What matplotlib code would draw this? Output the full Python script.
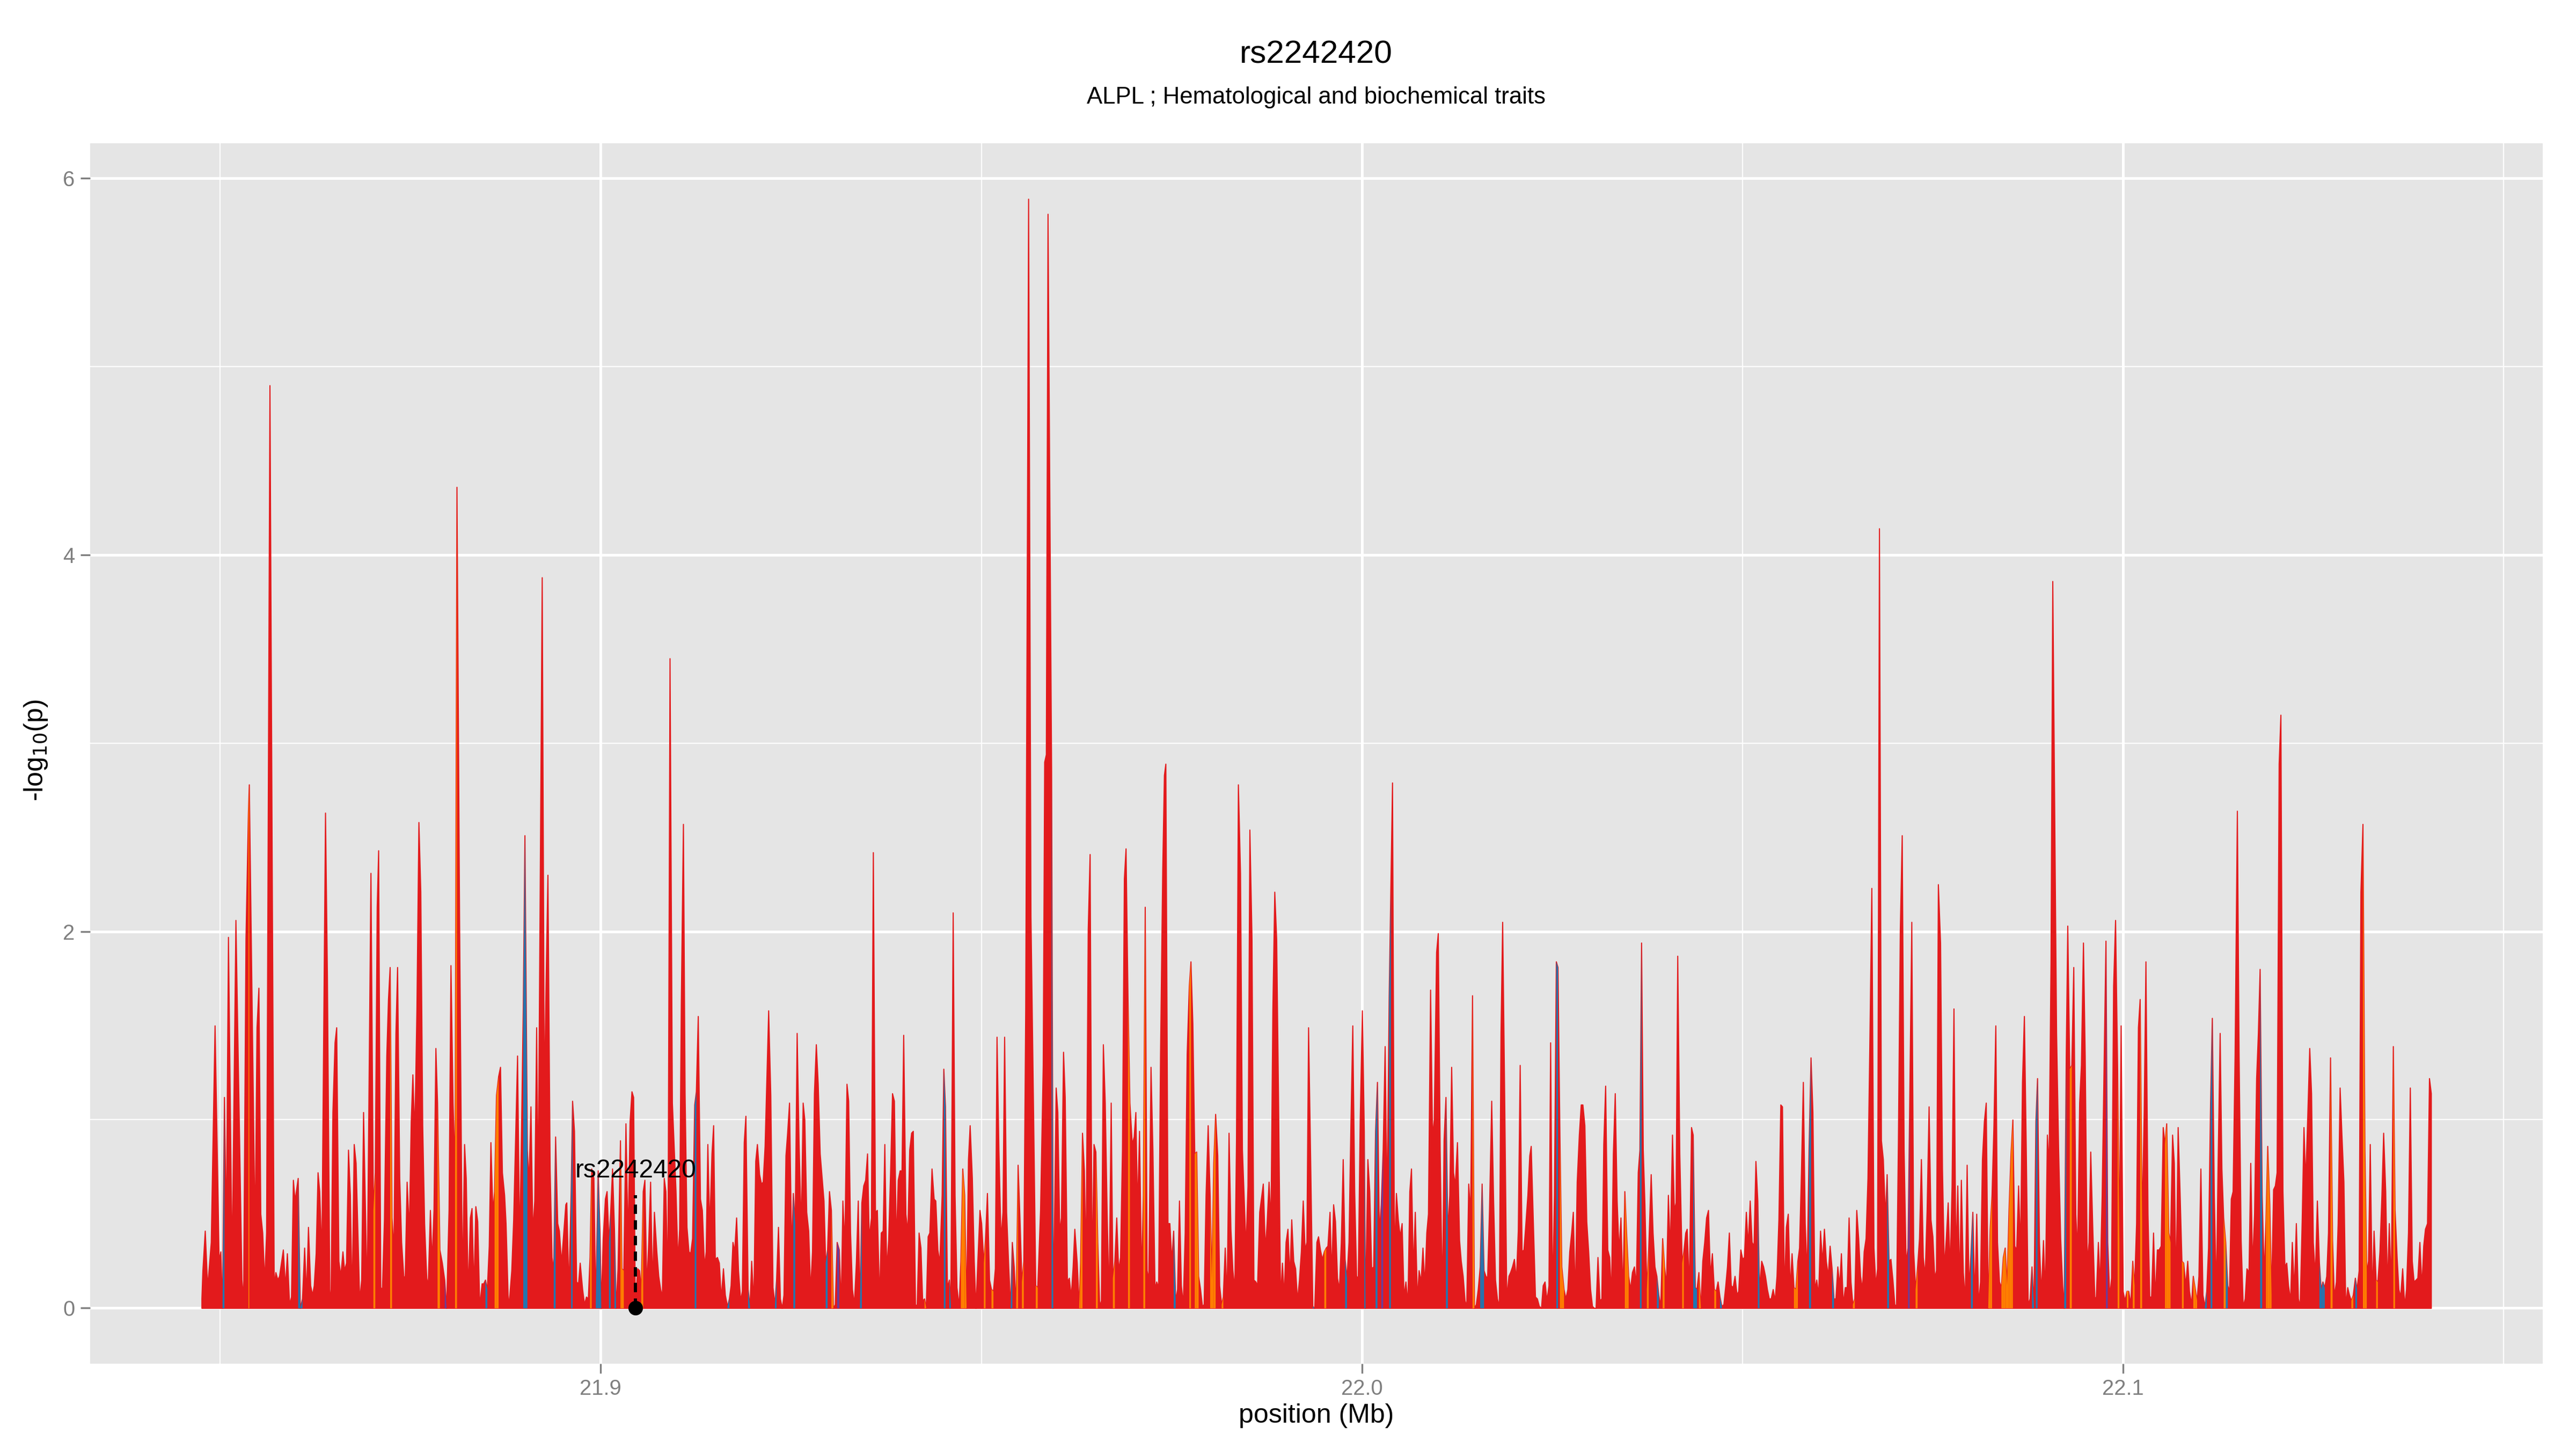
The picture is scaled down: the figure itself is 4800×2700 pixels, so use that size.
import numpy as np
import matplotlib.pyplot as plt
from matplotlib.ticker import FixedLocator

# regional association plot: -log10(p) per SNP, fill coloured by LD class

position = [
    21.84757, 21.84770, 21.84801, 21.84833, 21.84880, 21.84930, 21.84984, 21.85006,
    21.85028, 21.85053, 21.85078, 21.85106, 21.85154, 21.85204, 21.85283, 21.85305,
    21.85336, 21.85368, 21.85380, 21.85408, 21.85456, 21.85481, 21.85506, 21.85531,
    21.85556, 21.85582, 21.85607, 21.85651, 21.85707, 21.85729, 21.85755, 21.85777,
    21.85827, 21.85855, 21.85880, 21.85909, 21.85934, 21.85959, 21.85981, 21.86022,
    21.86050, 21.86079, 21.86107, 21.86132, 21.86157, 21.86186, 21.86211, 21.86233,
    21.86258, 21.86283, 21.86305, 21.86333, 21.86381, 21.86406, 21.86437, 21.86453,
    21.86478, 21.86506, 21.86528, 21.86557, 21.86582, 21.86610, 21.86632, 21.86657,
    21.86683, 21.86708, 21.86730, 21.86758, 21.86783, 21.86830, 21.86856, 21.86881,
    21.86928, 21.86978, 21.87010, 21.87035, 21.87060, 21.87079, 21.87107, 21.87129,
    21.87155, 21.87186, 21.87208, 21.87230, 21.87255, 21.87280, 21.87306, 21.87328,
    21.87356, 21.87381, 21.87409, 21.87428, 21.87453, 21.87482, 21.87507, 21.87529,
    21.87554, 21.87582, 21.87608, 21.87633, 21.87658, 21.87683, 21.87711, 21.87730,
    21.87759, 21.87781, 21.87806, 21.87831, 21.87853, 21.87884, 21.87916, 21.87947,
    21.87972, 21.88004, 21.88029, 21.88057, 21.88083, 21.88108, 21.88142, 21.88180,
    21.88208, 21.88230, 21.88256, 21.88284, 21.88306, 21.88331, 21.88356, 21.88381,
    21.88407, 21.88438, 21.88460, 21.88482, 21.88507, 21.88532, 21.88554, 21.88580,
    21.88602, 21.88627, 21.88655, 21.88680, 21.88705, 21.88734, 21.88753, 21.88784,
    21.88803, 21.88828, 21.88853, 21.88904, 21.88932, 21.88957, 21.88979, 21.89001,
    21.89033, 21.89055, 21.89080, 21.89105, 21.89130, 21.89155, 21.89174, 21.89199,
    21.89228, 21.89256, 21.89278, 21.89303, 21.89332, 21.89357, 21.89379, 21.89404,
    21.89432, 21.89454, 21.89482,
    21.89538, 21.89551, 21.89579, 21.89608, 21.89627, 21.89652, 21.89680, 21.89705,
    21.89727, 21.89759, 21.89784, 21.89809, 21.89834, 21.89856, 21.89878, 21.89907,
    21.89932, 21.89963, 21.89988, 21.90004, 21.90029, 21.90058, 21.90080, 21.90105,
    21.90127, 21.90152, 21.90177, 21.90199, 21.90224, 21.90256, 21.90275, 21.90300,
    21.90328, 21.90356, 21.90382, 21.90407, 21.90429, 21.90451, 21.90482, 21.90507,
    21.90529, 21.90555, 21.90577, 21.90602, 21.90627, 21.90652, 21.90677, 21.90702,
    21.90734, 21.90759, 21.90784, 21.90806, 21.90831, 21.90853, 21.90879, 21.90907,
    21.90938, 21.90986, 21.91011, 21.91033, 21.91055, 21.91083, 21.91105, 21.91130,
    21.91156, 21.91178, 21.91203, 21.91231, 21.91253, 21.91278, 21.91307, 21.91332,
    21.91360, 21.91382, 21.91404, 21.91429, 21.91458, 21.91480, 21.91502, 21.91530,
    21.91555, 21.91580, 21.91609, 21.91634, 21.91662, 21.91687, 21.91709, 21.91734,
    21.91756, 21.91782, 21.91807, 21.91835, 21.91857, 21.91882, 21.91904, 21.91933,
    21.91958, 21.91980, 21.92008, 21.92033, 21.92055, 21.92084, 21.92109, 21.92131,
    21.92156, 21.92203, 21.92231, 21.92260, 21.92285, 21.92307, 21.92332, 21.92357,
    21.92382, 21.92404, 21.92430, 21.92452, 21.92477, 21.92505, 21.92527, 21.92552,
    21.92577, 21.92603, 21.92631, 21.92656, 21.92678, 21.92703, 21.92729, 21.92754,
    21.92779, 21.92804, 21.92829, 21.92854, 21.92880, 21.92930, 21.92952, 21.92977,
    21.93002, 21.93027, 21.93053, 21.93078, 21.93103, 21.93131, 21.93156, 21.93178,
    21.93204, 21.93232, 21.93254, 21.93279, 21.93304, 21.93329, 21.93355, 21.93380,
    21.93402, 21.93427, 21.93452, 21.93477, 21.93502, 21.93524, 21.93553, 21.93578,
    21.93606, 21.93631, 21.93660, 21.93682, 21.93707, 21.93729, 21.93754, 21.93779,
    21.93804, 21.93830, 21.93855, 21.93880, 21.93905, 21.93930, 21.93955, 21.93977,
    21.94006, 21.94031, 21.94056, 21.94081, 21.94103, 21.94132, 21.94154, 21.94179,
    21.94204, 21.94226, 21.94251, 21.94273, 21.94298, 21.94320, 21.94349, 21.94377,
    21.94399,
    21.94426, 21.94451, 21.94482, 21.94504, 21.94526, 21.94551, 21.94577, 21.94596,
    21.94627, 21.94652, 21.94677, 21.94706, 21.94728, 21.94753, 21.94778, 21.94803,
    21.94828, 21.94850, 21.94879, 21.94904, 21.94926, 21.94951, 21.94979, 21.95001,
    21.95030, 21.95052, 21.95077, 21.95105, 21.95130, 21.95156, 21.95181, 21.95203,
    21.95228, 21.95256, 21.95281, 21.95303, 21.95329, 21.95357, 21.95382, 21.95404,
    21.95429, 21.95454, 21.95480, 21.95505, 21.95530, 21.95555, 21.95580, 21.95618,
    21.95649, 21.95684, 21.95712, 21.95738, 21.95775, 21.95810, 21.95829, 21.95851,
    21.95873, 21.95920, 21.95942, 21.95958, 21.95980, 21.96002, 21.96027, 21.96049,
    21.96077, 21.96099, 21.96128, 21.96153, 21.96178, 21.96203, 21.96225, 21.96257,
    21.96282, 21.96301, 21.96326, 21.96351, 21.96373, 21.96401, 21.96426, 21.96452,
    21.96477, 21.96502, 21.96527, 21.96552, 21.96574, 21.96600, 21.96625, 21.96650,
    21.96675, 21.96703, 21.96725, 21.96751, 21.96776, 21.96801, 21.96826, 21.96851,
    21.96876, 21.96898, 21.96924, 21.96949, 21.96980, 21.97005, 21.97027, 21.97049,
    21.97075, 21.97103, 21.97125, 21.97150, 21.97175, 21.97197, 21.97226, 21.97251,
    21.97279, 21.97301, 21.97326, 21.97351, 21.97380, 21.97402, 21.97421, 21.97449,
    21.97474, 21.97499, 21.97524, 21.97550, 21.97575, 21.97600, 21.97625, 21.97650,
    21.97675, 21.97701, 21.97729, 21.97751, 21.97776, 21.97801, 21.97826, 21.97852,
    21.97877, 21.97902, 21.97924, 21.97949, 21.97977, 21.98003, 21.98025, 21.98050,
    21.98075, 21.98103, 21.98128, 21.98154, 21.98176, 21.98201, 21.98226, 21.98251,
    21.98276, 21.98302, 21.98327, 21.98349, 21.98374, 21.98402, 21.98427, 21.98449,
    21.98474, 21.98500, 21.98525, 21.98553, 21.98578, 21.98604, 21.98626, 21.98654,
    21.98676, 21.98701, 21.98729, 21.98751, 21.98777, 21.98802, 21.98827, 21.98852,
    21.98877, 21.98902, 21.98928, 21.98953, 21.98975, 21.99000, 21.99025, 21.99050,
    21.99075, 21.99101, 21.99126, 21.99151, 21.99176, 21.99201, 21.99226, 21.99251,
    21.99274, 21.99296,
    21.99326, 21.99352, 21.99377, 21.99405, 21.99427, 21.99452, 21.99477, 21.99503,
    21.99528, 21.99550, 21.99578, 21.99600, 21.99625, 21.99650, 21.99676, 21.99701,
    21.99726, 21.99751, 21.99776, 21.99801, 21.99827, 21.99852, 21.99877, 21.99902,
    21.99927, 21.99949, 21.99974, 22.00003, 22.00028, 22.00044, 22.00075, 22.00100,
    22.00125, 22.00151, 22.00176, 22.00201, 22.00226, 22.00251, 22.00276, 22.00302,
    22.00327, 22.00355, 22.00377, 22.00399, 22.00424, 22.00450, 22.00475, 22.00500,
    22.00525, 22.00550, 22.00575, 22.00601, 22.00626, 22.00648, 22.00673, 22.00698,
    22.00726, 22.00748, 22.00774, 22.00799, 22.00824, 22.00849, 22.00871, 22.00899,
    22.00925, 22.00947, 22.00978, 22.01000, 22.01025, 22.01054, 22.01076, 22.01101,
    22.01126, 22.01151, 22.01176, 22.01201, 22.01223, 22.01252, 22.01280, 22.01302,
    22.01327, 22.01352, 22.01374, 22.01400, 22.01425, 22.01450, 22.01475, 22.01500,
    22.01525, 22.01551, 22.01576, 22.01601, 22.01626, 22.01648, 22.01673, 22.01702,
    22.01727, 22.01752, 22.01777, 22.01802, 22.01824, 22.01846, 22.01872, 22.01900,
    22.01928, 22.01950, 22.01975, 22.02000, 22.02026, 22.02051, 22.02076, 22.02101,
    22.02126, 22.02151, 22.02177, 22.02202, 22.02221, 22.02246, 22.02277, 22.02302,
    22.02328, 22.02356, 22.02378, 22.02403, 22.02428, 22.02454, 22.02476, 22.02501,
    22.02526, 22.02551, 22.02573, 22.02598, 22.02623, 22.02652, 22.02677, 22.02702,
    22.02727, 22.02752, 22.02774, 22.02800, 22.02825, 22.02853, 22.02878, 22.02900,
    22.02926, 22.02951, 22.02976, 22.03001, 22.03026, 22.03051, 22.03073, 22.03098,
    22.03124, 22.03149, 22.03174, 22.03199, 22.03227, 22.03252, 22.03275, 22.03300,
    22.03325, 22.03350, 22.03375, 22.03400, 22.03426, 22.03451, 22.03476, 22.03501,
    22.03526, 22.03551, 22.03577, 22.03602, 22.03627, 22.03649, 22.03671, 22.03693,
    22.03715, 22.03740, 22.03765, 22.03797, 22.03822, 22.03847, 22.03872, 22.03897,
    22.03923, 22.03948, 22.03973, 22.03998, 22.04023, 22.04048, 22.04077, 22.04102,
    22.04124, 22.04146,
    22.04173, 22.04204, 22.04226, 22.04251, 22.04270, 22.04298, 22.04327, 22.04349,
    22.04377, 22.04399, 22.04424, 22.04450, 22.04475, 22.04500, 22.04525, 22.04550,
    22.04575, 22.04601, 22.04626, 22.04651, 22.04676, 22.04701, 22.04726, 22.04752,
    22.04777, 22.04799, 22.04824, 22.04849, 22.04874, 22.04899, 22.04925, 22.04947,
    22.04975, 22.05000, 22.05022, 22.05047, 22.05072, 22.05098, 22.05123, 22.05148,
    22.05173, 22.05198, 22.05220, 22.05249, 22.05274, 22.05299, 22.05324, 22.05349,
    22.05374, 22.05400, 22.05425, 22.05450, 22.05475, 22.05500, 22.05522, 22.05547,
    22.05573, 22.05598, 22.05623, 22.05648, 22.05673, 22.05698, 22.05724, 22.05746,
    22.05771, 22.05796, 22.05821, 22.05846, 22.05871, 22.05897, 22.05922, 22.05947,
    22.05972, 22.05997, 22.06022, 22.06048, 22.06073, 22.06098, 22.06123, 22.06148,
    22.06174, 22.06199, 22.06224, 22.06249, 22.06274, 22.06296, 22.06321, 22.06347,
    22.06372, 22.06397, 22.06422, 22.06447, 22.06472, 22.06498, 22.06523, 22.06548,
    22.06573, 22.06595, 22.06620, 22.06645, 22.06671, 22.06696, 22.06724, 22.06749,
    22.06771, 22.06796, 22.06822, 22.06847, 22.06875, 22.06897, 22.06922, 22.06947,
    22.06973, 22.06998, 22.07020, 22.07045, 22.07070, 22.07095, 22.07120, 22.07146,
    22.07171, 22.07193, 22.07221, 22.07246, 22.07271, 22.07297, 22.07322, 22.07347,
    22.07372, 22.07397, 22.07422, 22.07448, 22.07473, 22.07498, 22.07523, 22.07545,
    22.07570, 22.07599, 22.07624, 22.07649, 22.07674, 22.07699, 22.07724, 22.07750,
    22.07775, 22.07800, 22.07825, 22.07850, 22.07872, 22.07898, 22.07923, 22.07948,
    22.07973, 22.07998, 22.08023, 22.08049, 22.08074, 22.08099, 22.08124, 22.08149,
    22.08174, 22.08199, 22.08225, 22.08250, 22.08275, 22.08300, 22.08325, 22.08347,
    22.08373, 22.08398, 22.08423, 22.08448, 22.08473, 22.08498, 22.08524, 22.08549,
    22.08574, 22.08599, 22.08624, 22.08649, 22.08675, 22.08700, 22.08725, 22.08750,
    22.08775, 22.08800, 22.08826, 22.08851, 22.08873, 22.08898, 22.08923, 22.08951,
    22.08976, 22.09002, 22.09024,
    22.09050, 22.09073, 22.09123, 22.09150, 22.09177, 22.09203, 22.09223, 22.09250,
    22.09270, 22.09296, 22.09323, 22.09349, 22.09376, 22.09399, 22.09426, 22.09449,
    22.09476, 22.09499, 22.09526, 22.09549, 22.09572, 22.09599, 22.09626, 22.09645,
    22.09672, 22.09695, 22.09722, 22.09749, 22.09772, 22.09795, 22.09822, 22.09845,
    22.09872, 22.09898, 22.09925, 22.09948, 22.09971, 22.09998, 22.10021, 22.10048,
    22.10071, 22.10098, 22.10124, 22.10148, 22.10174, 22.10198, 22.10221, 22.10247,
    22.10274, 22.10297, 22.10324, 22.10347, 22.10371, 22.10397, 22.10420, 22.10447,
    22.10470, 22.10497, 22.10524, 22.10547, 22.10570, 22.10597, 22.10620, 22.10647,
    22.10670, 22.10693, 22.10720, 22.10743, 22.10770, 22.10793, 22.10820, 22.10846,
    22.10869, 22.10896, 22.10919, 22.10946, 22.10969, 22.10993, 22.11019, 22.11046,
    22.11072, 22.11096, 22.11119, 22.11146, 22.11169, 22.11195, 22.11222, 22.11245,
    22.11272, 22.11295, 22.11318, 22.11345, 22.11372, 22.11395, 22.11418, 22.11442,
    22.11468, 22.11498, 22.11521, 22.11548, 22.11575, 22.11601, 22.11624, 22.11651,
    22.11674, 22.11698, 22.11724, 22.11751, 22.11774, 22.11797, 22.11824, 22.11851,
    22.11874, 22.11897, 22.11924, 22.11947, 22.11974, 22.11997, 22.12020, 22.12047,
    22.12070, 22.12097, 22.12123, 22.12147, 22.12170, 22.12197, 22.12220, 22.12246,
    22.12273, 22.12300, 22.12323, 22.12350, 22.12373, 22.12396, 22.12423, 22.12449,
    22.12473, 22.12496, 22.12522, 22.12549, 22.12576, 22.12599, 22.12622, 22.12646,
    22.12672, 22.12695, 22.12722, 22.12749, 22.12772, 22.12799, 22.12822, 22.12848,
    22.12872, 22.12898, 22.12922, 22.12948, 22.12971, 22.12995, 22.13021, 22.13048,
    22.13071, 22.13098, 22.13121, 22.13148, 22.13174, 22.13198, 22.13221, 22.13244,
    22.13271, 22.13294, 22.13321, 22.13344, 22.13371, 22.13397, 22.13420, 22.13447,
    22.13470, 22.13494, 22.13520, 22.13547, 22.13570, 22.13597, 22.13620, 22.13643,
    22.13670, 22.13697, 22.13720, 22.13746, 22.13770, 22.13796, 22.13820, 22.13846,
    22.13869, 22.13896, 22.13923, 22.13946, 22.13969, 22.13996, 22.14022, 22.14046,
]

neglog10p = [
    0.05, 0.20, 0.41, 0.11, 0.35, 1.50, 0.25, 0.30,
    0.00, 1.12, 0.40, 1.97, 0.22, 2.06, 0.15, 0.05,
    1.96, 2.63, 2.78, 1.89, 0.38, 1.49, 1.70, 0.50,
    0.40, 0.14, 0.40, 4.90, 0.12, 0.19, 0.15, 0.17,
    0.31, 0.11, 0.29, 0.02, 0.06, 0.68, 0.57, 0.69,
    0.00, 0.05, 0.32, 0.07, 0.43, 0.12, 0.07, 0.12,
    0.29, 0.72, 0.62, 0.27, 2.63, 1.76, 0.10, 0.01,
    1.04, 1.41, 1.49, 0.25, 0.17, 0.30, 0.20, 0.24,
    0.84, 0.60, 0.02, 0.87, 0.77, 0.04, 0.15, 1.04,
    0.06, 2.31, 0.52, 0.72, 2.13, 2.43, 0.11, 0.10,
    0.47, 1.34, 1.64, 1.81, 0.48, 0.30, 1.46, 1.81,
    0.69, 0.35, 0.17, 0.16, 0.67, 0.41, 0.99, 1.24,
    0.92, 1.59, 2.58, 2.21, 0.97, 0.45, 0.16, 0.12,
    0.52, 0.24, 0.52, 1.38, 1.09, 0.31, 0.24, 0.15,
    0.00, 0.52, 1.82, 1.09, 0.72, 4.36, 2.08, 0.10,
    0.87, 0.69, 0.07, 0.48, 0.53, 0.09, 0.54, 0.46,
    0.01, 0.13, 0.13, 0.15, 0.10, 0.33, 0.88, 0.51,
    0.62, 1.13, 1.23, 1.28, 0.72, 0.60, 0.45, 0.01,
    0.07, 0.20, 0.47, 1.34, 0.32, 0.97, 1.59, 2.51,
    0.84, 0.67, 1.07, 0.40, 0.57, 1.49, 0.57, 2.08,
    3.88, 1.09, 1.71, 2.30, 0.74, 0.27, 0.20, 0.91,
    0.45, 0.41, 0.24,
    0.55, 0.56, 0.09, 0.62, 1.10, 0.94, 0.14, 0.13,
    0.24, 0.10, 0.02, 0.06, 0.05, 0.27, 0.74, 0.69,
    0.02, 0.73, 0.40, 0.00, 0.37, 0.58, 0.62, 0.35,
    0.51, 0.74, 0.42, 0.00, 0.21, 0.89, 0.21, 0.20,
    0.98, 0.35, 0.99, 1.15, 1.12, 0.00, 0.21, 0.20,
    0.10, 0.62, 0.68, 0.11, 0.35, 0.67, 0.11, 0.51,
    0.30, 0.17, 0.10, 0.06, 0.69, 0.62, 0.10, 3.45,
    1.09, 0.62, 0.25, 0.42, 1.61, 2.57, 1.14, 0.43,
    0.30, 0.29, 0.37, 1.08, 1.15, 1.55, 0.58, 0.52,
    0.22, 0.30, 0.87, 0.42, 0.82, 0.97, 0.26, 0.27,
    0.24, 0.05, 0.21, 0.07, 0.01, 0.05, 0.12, 0.35,
    0.30, 0.48, 0.20, 0.04, 0.09, 0.88, 1.02, 0.10,
    0.01, 0.25, 0.02, 0.78, 0.87, 0.71, 0.66, 0.67,
    0.86, 1.58, 1.13, 0.11, 0.02, 0.15, 0.43, 0.05,
    0.00, 0.07, 0.81, 0.93, 1.09, 0.30, 0.61, 0.45,
    1.46, 0.87, 0.41, 1.09, 1.00, 0.51, 0.41, 0.09,
    0.30, 1.14, 1.40, 1.19, 0.82, 0.57, 0.24, 0.31,
    0.62, 0.52, 0.00, 0.02, 0.35, 0.31, 0.01, 0.57,
    0.33, 1.19, 1.10, 0.40, 0.10, 0.02, 0.24, 0.57,
    0.01, 0.56, 0.65, 0.68, 0.82, 0.37, 0.48, 2.42,
    0.51, 0.52, 0.04, 0.40, 0.41, 0.87, 0.20, 0.36,
    0.71, 1.14, 1.10, 0.33, 0.68, 0.73, 0.73, 1.45,
    0.50, 0.40, 0.84, 0.93, 0.94, 0.02, 0.01, 0.40,
    0.32, 0.04, 0.05, 0.00, 0.38, 0.40, 0.74, 0.58,
    0.57,
    0.31, 0.24, 0.60, 1.27, 1.07, 0.11, 0.15, 0.02,
    2.10, 0.60, 0.11, 0.01, 0.25, 0.74, 0.60, 0.00,
    0.79, 0.97, 0.69, 0.25, 0.00, 0.25, 0.52, 0.45,
    0.24, 0.37, 0.61, 0.15, 0.10, 0.09, 0.21, 1.44,
    0.84, 0.36, 0.51, 1.44, 0.51, 0.22, 0.00, 0.35,
    0.22, 0.01, 0.76, 0.47, 0.14, 0.25, 1.59, 5.89,
    2.08, 1.02, 0.12, 0.11, 0.52, 1.29, 2.90, 2.94,
    5.81, 2.85, 0.00, 0.45, 1.17, 1.04, 0.40, 0.48,
    1.36, 1.12, 0.14, 0.16, 0.06, 0.22, 0.42, 0.24,
    0.01, 0.24, 0.93, 0.73, 0.22, 2.01, 2.41, 0.14,
    0.87, 0.83, 0.35, 0.01, 0.04, 1.40, 1.09, 0.50,
    0.04, 1.09, 0.16, 0.25, 0.48, 0.20, 0.27, 0.84,
    2.28, 2.44, 1.64, 1.09, 0.87, 0.91, 1.04, 0.52,
    0.94, 0.15, 0.60, 2.13, 0.20, 0.15, 1.28, 0.84,
    0.10, 0.14, 0.11, 1.34, 2.33, 2.83, 2.89, 0.45,
    0.45, 0.25, 0.41, 0.04, 0.10, 0.57, 0.12, 0.02,
    0.40, 1.35, 1.71, 1.84, 1.51, 0.82, 0.83, 0.17,
    0.10, 0.01, 0.02, 0.60, 0.97, 0.60, 0.15, 0.77,
    1.03, 0.81, 0.12, 0.02, 0.06, 0.32, 0.05, 0.93,
    0.42, 0.20, 0.10, 0.89, 2.78, 2.31, 0.84, 0.60,
    0.32, 0.65, 2.54, 1.96, 0.15, 0.14, 0.12, 0.51,
    0.58, 0.66, 0.31, 0.45, 0.67, 0.45, 1.59, 2.21,
    1.96, 1.09, 0.05, 0.24, 0.06, 0.35, 0.42, 0.16,
    0.47, 0.25, 0.21, 0.04, 0.15, 0.30, 0.57, 0.31,
    0.35, 1.49,
    0.72, 0.01, 0.00, 0.35, 0.38, 0.31, 0.26, 0.30,
    0.32, 0.33, 0.51, 0.17, 0.55, 0.46, 0.16, 0.10,
    0.35, 0.79, 0.26, 0.16, 0.35, 0.97, 1.50, 0.62,
    0.17, 0.16, 0.99, 1.58, 0.94, 0.00, 0.79, 0.62,
    0.21, 0.22, 0.94, 1.20, 0.40, 0.55, 0.84, 1.39,
    0.52, 1.66, 2.23, 2.79, 0.26, 0.61, 0.47, 0.38,
    0.45, 0.06, 0.14, 0.02, 0.62, 0.74, 0.19, 0.51,
    0.04, 0.20, 0.14, 0.32, 0.12, 0.40, 0.50, 1.69,
    0.91, 1.00, 1.89, 1.99, 0.84, 0.04, 0.89, 1.12,
    0.40, 0.60, 1.28, 0.72, 0.65, 0.88, 0.36, 0.25,
    0.17, 0.04, 0.01, 0.66, 0.50, 1.66, 0.00, 0.02,
    0.10, 0.22, 0.66, 0.20, 0.17, 0.16, 0.52, 1.10,
    0.57, 0.15, 0.05, 0.01, 1.46, 2.05, 1.14, 0.05,
    0.17, 0.19, 0.22, 0.26, 0.15, 0.41, 1.29, 0.30,
    0.31, 0.45, 0.60, 0.81, 0.86, 0.50, 0.06, 0.05,
    0.01, 0.00, 0.12, 0.14, 0.04, 0.12, 1.41, 0.05,
    0.60, 1.84, 1.81, 0.92, 0.22, 0.10, 0.05, 0.10,
    0.30, 0.40, 0.51, 0.05, 0.67, 0.92, 1.08, 1.08,
    0.97, 0.46, 0.30, 0.10, 0.01, 0.00, 0.00, 0.27,
    0.04, 0.05, 0.87, 1.18, 0.31, 0.27, 0.06, 0.82,
    1.14, 0.57, 0.30, 0.48, 0.07, 0.62, 0.38, 0.17,
    0.10, 0.19, 0.22, 0.12, 0.72, 0.84, 1.94, 0.84,
    0.55, 0.10, 0.32, 0.71, 0.40, 0.22, 0.17, 0.07,
    0.01, 0.37, 0.22, 0.12, 0.60, 0.30, 0.92, 0.52,
    0.56, 1.87,
    0.82, 0.24, 0.30, 0.40, 0.42, 0.10, 0.96, 0.92,
    0.11, 0.10, 0.19, 0.00, 0.25, 0.35, 0.48, 0.52,
    0.17, 0.29, 0.10, 0.09, 0.14, 0.06, 0.01, 0.02,
    0.12, 0.22, 0.40, 0.12, 0.11, 0.17, 0.07, 0.09,
    0.31, 0.26, 0.27, 0.51, 0.33, 0.57, 0.35, 0.33,
    0.78, 0.57, 0.10, 0.25, 0.22, 0.17, 0.10, 0.05,
    0.05, 0.10, 0.04, 0.17, 0.47, 1.08, 1.07, 0.07,
    0.43, 0.50, 0.10, 0.29, 0.11, 0.10, 0.25, 0.32,
    0.72, 1.20, 0.45, 0.17, 0.84, 1.33, 1.04, 0.10,
    0.15, 0.07, 0.41, 0.24, 0.42, 0.25, 0.17, 0.33,
    0.21, 0.05, 0.05, 0.22, 0.12, 0.29, 0.02, 0.11,
    0.11, 0.48, 0.14, 0.02, 0.05, 0.52, 0.37, 0.17,
    0.10, 0.30, 0.37, 0.69, 1.44, 2.23, 0.32, 0.12,
    0.21, 4.14, 0.89, 0.79, 0.48, 0.71, 0.25, 0.26,
    0.15, 0.02, 0.01, 0.89, 2.01, 2.51, 0.84, 0.24,
    0.32, 1.07, 2.05, 0.30, 0.10, 0.22, 0.37, 0.79,
    0.27, 0.17, 0.52, 1.07, 0.47, 0.38, 0.16, 0.20,
    2.25, 1.94, 0.74, 0.21, 0.37, 0.56, 0.20, 0.65,
    1.59, 0.25, 0.65, 0.12, 0.68, 0.19, 0.04, 0.76,
    0.10, 0.29, 0.51, 0.04, 0.50, 0.02, 0.14, 0.79,
    0.99, 1.09, 0.00, 0.42, 0.60, 0.97, 1.50, 0.35,
    0.14, 0.11, 0.27, 0.32, 0.12, 0.52, 0.82, 1.00,
    0.33, 0.31, 0.65, 0.30, 1.20, 1.55, 0.84, 0.02,
    0.05, 0.22, 0.01, 0.99, 1.22, 0.35, 0.07, 0.36,
    0.07, 0.92, 0.74,
    1.84, 3.86, 1.46, 0.84, 0.37, 0.12, 0.00, 1.34,
    2.03, 1.27, 1.29, 1.81, 0.50, 0.30, 1.09, 1.29,
    1.94, 1.34, 0.24, 0.35, 0.83, 0.42, 0.05, 0.06,
    0.35, 0.11, 0.60, 1.34, 1.95, 0.35, 0.06, 0.16,
    1.71, 2.06, 1.27, 0.35, 1.50, 0.09, 0.04, 0.09,
    0.09, 0.02, 0.25, 0.12, 0.45, 1.49, 1.64, 0.45,
    1.04, 1.84, 0.50, 0.06, 0.06, 0.40, 0.05, 0.31,
    0.31, 0.33, 0.96, 0.87, 0.98, 0.40, 0.35, 0.92,
    0.77, 0.10, 0.96, 0.65, 0.25, 0.24, 0.12, 0.25,
    0.09, 0.02, 0.17, 0.10, 0.04, 0.17, 0.74, 0.07,
    0.01, 0.09, 0.32, 1.09, 1.54, 0.60, 0.07, 0.77,
    1.46, 0.74, 0.48, 0.35, 0.12, 0.09, 0.58, 0.62,
    1.34, 2.64, 1.34, 0.36, 0.01, 0.05, 0.21, 0.19,
    0.77, 0.22, 0.50, 1.22, 1.46, 1.80, 0.60, 0.17,
    0.47, 0.86, 0.55, 0.07, 0.63, 0.65, 0.72, 2.89,
    3.15, 0.62, 0.22, 0.24, 0.12, 0.04, 0.35, 0.09,
    0.45, 0.05, 0.01, 0.47, 0.96, 0.67, 1.02, 1.38,
    1.14, 0.35, 0.17, 0.57, 0.24, 0.10, 0.14, 0.11,
    0.17, 0.40, 1.33, 0.36, 0.06, 0.14, 0.45, 1.17,
    0.92, 0.67, 0.01, 0.11, 0.07, 0.04, 0.07, 0.16,
    0.10, 0.20, 2.21, 2.57, 0.84, 0.19, 0.25, 0.87,
    0.04, 0.41, 0.15, 0.14, 0.30, 0.60, 0.93, 0.62,
    0.10, 0.45, 0.10, 1.39, 0.52, 0.27, 0.10, 0.06,
    0.21, 0.01, 0.10, 0.40, 1.17, 0.25, 0.14, 0.15,
    0.16, 0.35, 0.11, 0.33, 0.42, 0.45, 1.22, 1.14,
]

# SNPs whose segment is filled with another LD class (everything else is red)
ld_blue = [
    21.85028, 21.86022, 21.86050, 21.88482, 21.88979, 21.89001, 21.89379,
    21.89608, 21.89932, 21.89963, 21.89988, 21.90105, 21.90177, 21.91231, 21.91662,
    21.91933, 21.92285, 21.92527, 21.92952, 21.93402, 21.94504, 21.94577, 21.95382,
    21.95920, 21.97524, 21.99352, 21.99776, 22.00028, 22.00176, 22.00355, 22.01101,
    22.01551, 22.01576, 22.02551, 22.03649, 22.03872, 22.04349, 22.04377, 22.04701,
    22.05198, 22.05871, 22.06174, 22.06897, 22.07998, 22.08800, 22.08851, 22.09223,
    22.11072, 22.11146, 22.11345, 22.11797, 22.12576, 22.12599, 22.12622, 22.13048,
]
ld_orange = [
    21.85368, 21.87010, 21.87230, 21.87853, 21.88083, 21.88602, 21.88627, 21.89856,
    21.90256, 21.90275, 21.90529, 21.93027, 21.94251, 21.94728, 21.94753, 21.94778,
    21.95030, 21.95130, 21.95454, 21.95530, 21.95712, 21.96282, 21.96301, 21.96502,
    21.96725, 21.96924, 21.97125, 21.97729, 21.97801, 21.97826, 21.98003, 21.98025,
    21.98050, 21.98154, 21.99503, 22.01450, 22.02598, 22.02623, 22.03451, 22.03476,
    22.03740, 22.03948, 22.04204, 22.04424, 22.04626, 22.05673, 22.05698, 22.06447,
    22.07271, 22.08225, 22.08250, 22.08398, 22.08423, 22.08448, 22.08473, 22.08498,
    22.08524, 22.09296, 22.09925, 22.10048, 22.10124, 22.10221, 22.10547, 22.10570,
    22.10597, 22.10770, 22.10919, 22.10946, 22.11318, 22.11874, 22.11897, 22.11924,
    22.12722, 22.12995, 22.13148, 22.13174, 22.13321, 22.13547,
]
ld_purple = [21.87947, 21.93103, 22.00251, 22.07171, 22.09772]

lead_snp = "rs2242420"
lead_pos = 21.90457

RED, ORANGE, BLUE, PURPLE = "#E31A1C", "#FF7F00", "#1F78B4", "#6A3D9A"
GREY = "#7F7F7F"

plt.rcParams['font.family'] = ['Liberation Sans', 'DejaVu Sans']

x = np.array(position)
y = np.array(neglog10p)

fig = plt.figure(figsize=(16, 9), dpi=300)
ax = fig.add_axes([0.035, 0.059, 0.952, 0.842])
ax.set_facecolor("#E5E5E5")

# thin outline of the same colour keeps the narrow spikes visible, as in ggplot
ax.fill_between(x, 0, y, facecolor=RED, edgecolor=RED, lw=0.5, zorder=2)
for snps, col in [(ld_blue, BLUE), (ld_orange, ORANGE), (ld_purple, PURPLE)]:
    for p in snps:
        i = int(np.argmin(np.abs(x - p)))
        if i + 1 < len(x):
            ax.fill_between(x[i:i + 2], 0, y[i:i + 2], color=col, lw=0, zorder=3)

# lead SNP marker
ax.plot([lead_pos, lead_pos], [0, 0.6], color="black", lw=1.4, ls=(0, (3, 2)), zorder=4)
ax.plot([lead_pos], [0], "o", color="black", ms=5.5, zorder=5)
ax.text(lead_pos, 0.73, lead_snp, ha="center", va="center", fontsize=11.5, zorder=5)

ax.margins(x=0.05, y=0.05)

ax.xaxis.set_major_locator(FixedLocator([21.9, 22.0, 22.1]))
ax.xaxis.set_minor_locator(FixedLocator([21.85, 21.95, 22.05, 22.15]))
ax.yaxis.set_major_locator(FixedLocator([0, 2, 4, 6]))
ax.yaxis.set_minor_locator(FixedLocator([1, 3, 5]))
ax.set_xticklabels(["21.9", "22.0", "22.1"])
ax.set_yticklabels(["0", "2", "4", "6"])
ax.grid(which="major", color="white", lw=1.2, zorder=0)
ax.grid(which="minor", color="white", lw=0.55, alpha=0.9, zorder=0)
ax.set_axisbelow(True)
for s in ax.spines.values():
    s.set_visible(False)
ax.tick_params(which="major", length=4.3, width=0.8, color=GREY, labelcolor=GREY,
               labelsize=9.6, pad=2.5)
ax.tick_params(which="minor", length=0)

fig.text(0.511, 0.9563, lead_snp, ha="center", va="baseline", fontsize=14.5)
fig.text(0.511, 0.9285, "ALPL ; Hematological and biochemical traits",
         ha="center", va="baseline", fontsize=10.5)
fig.text(0.511, 0.018, "position (Mb)", ha="center", va="baseline", fontsize=12)
fig.text(0.014, 0.482, r"-log$_{10}$(p)", ha="center", va="center",
         rotation=90, fontsize=12)

fig.savefig("out.png", dpi=300)
